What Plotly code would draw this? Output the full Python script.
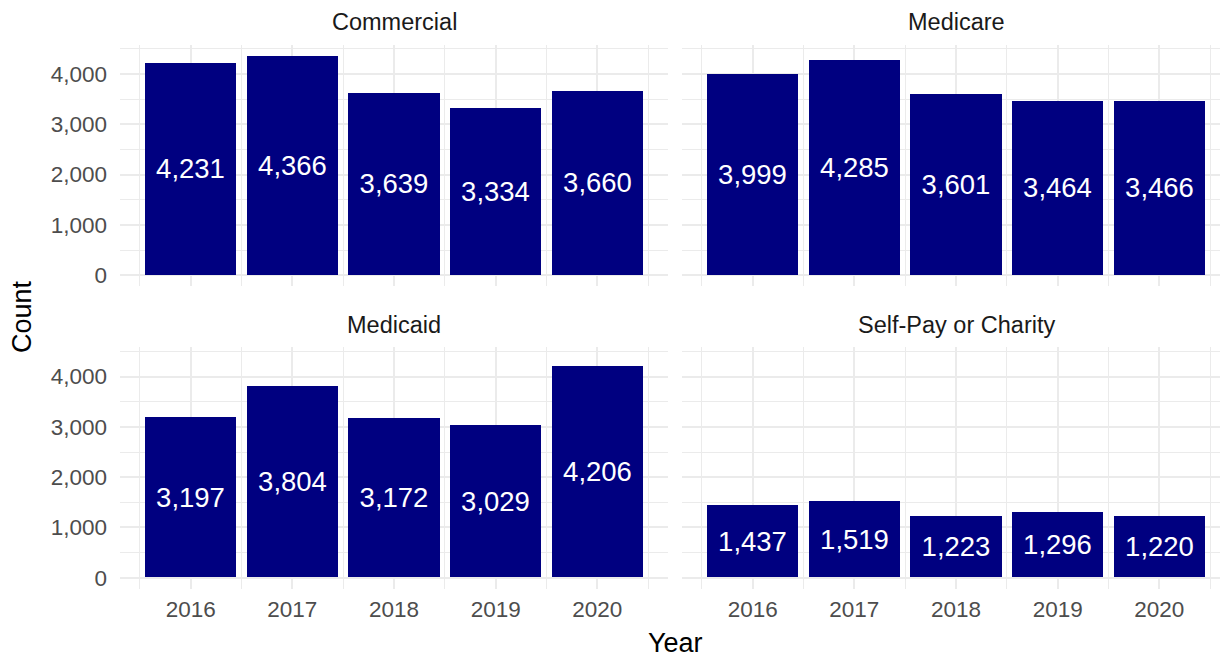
import plotly.graph_objects as go
from plotly.subplots import make_subplots

years = [2016, 2017, 2018, 2019, 2020]
panels = ["Commercial", "Medicare", "Medicaid", "Self-Pay or Charity"]
commercial = [4231, 4366, 3639, 3334, 3660]
medicare = [3999, 4285, 3601, 3464, 3466]
medicaid = [3197, 3804, 3172, 3029, 4206]
selfpay = [1437, 1519, 1223, 1296, 1220]
series = [commercial, medicare, medicaid, selfpay]

W, H = 1220, 660
FONT = "Liberation Sans, Arial, sans-serif"
BAR = "#000080"
GRID = "#ebebeb"

fig = make_subplots(rows=2, cols=2)

pos = [(1, 1), (1, 2), (2, 1), (2, 2)]
for (r, c), vals in zip(pos, series):
    fig.add_trace(go.Bar(
        x=years, y=vals, width=0.9, marker=dict(color=BAR, line=dict(width=0)),
        text=[f"{v:,}" for v in vals], textposition="inside", insidetextanchor="middle",
        textangle=0, textfont=dict(color="white", size=27.5, family=FONT),
        showlegend=False, hoverinfo="skip"), row=r, col=c)

# pixel layout
xl = (120, 668)
xr = (682, 1220)
yt = (44.8, 287.0)
yb = (348.3, 590.5)
unit = (xl[1] - xl[0]) / 5.39
x0 = 2015.305
xrange_l = [x0, x0 + (xl[1] - xl[0]) / unit]
xrange_r = [x0, x0 + (xr[1] - xr[0]) / unit]
yrange = [-218.3, 4584.3]

def fx(p):
    return p / W

def fy(p):
    return 1 - p / H

axis_common = dict(showline=False, zeroline=False, showgrid=True, gridcolor=GRID, gridwidth=1.8,
                   ticks="", tickfont=dict(size=22.5, color="#4d4d4d", family=FONT))

for i, (r, c) in enumerate(pos):
    xd = xl if c == 1 else xr
    yd = yt if r == 1 else yb
    fig.update_xaxes(domain=[fx(xd[0]), fx(xd[1])], range=xrange_l if c == 1 else xrange_r,
                     tickmode="array", tickvals=years, ticktext=[str(y) for y in years],
                     showticklabels=(r == 2),
                     minor=dict(tickmode="array", tickvals=[y - 0.5 for y in years] + [2020.5],
                                showgrid=True, gridcolor=GRID, gridwidth=1.0, ticks=""),
                     ticklabelstandoff=5,
                     row=r, col=c, **axis_common)
    fig.update_yaxes(domain=[fy(yd[1]), fy(yd[0])], range=yrange,
                     tickmode="array", tickvals=[0, 1000, 2000, 3000, 4000],
                     ticktext=["0", "1,000", "2,000", "3,000", "4,000"],
                     showticklabels=(c == 1),
                     minor=dict(tickmode="array", tickvals=[500, 1500, 2500, 3500, 4500],
                                showgrid=True, gridcolor=GRID, gridwidth=1.0, ticks=""),
                     ticklabelstandoff=12,
                     row=r, col=c, **axis_common)

ann = []
strip_y = [22, 22, 326, 326]
for i, (r, c) in enumerate(pos):
    xd = xl if c == 1 else (682, 1231)
    ann.append(dict(text=panels[i], x=fx((xd[0] + xd[1]) / 2), y=fy(strip_y[i]), xref="paper", yref="paper",
                    xanchor="center", yanchor="middle", showarrow=False,
                    font=dict(size=23.5, color="#1a1a1a", family=FONT)))
ann.append(dict(text="Year", x=fx(675.5), y=fy(645), xref="paper", yref="paper", xanchor="center",
                yanchor="middle", showarrow=False, font=dict(size=27, color="black", family=FONT)))
ann.append(dict(text="Count", x=fx(22), y=fy(318), xref="paper", yref="paper", xanchor="center",
                yanchor="middle", showarrow=False, textangle=-90,
                font=dict(size=27, color="black", family=FONT)))

fig.update_layout(width=W, height=H, margin=dict(l=0, r=0, t=0, b=0),
                  paper_bgcolor="white", plot_bgcolor="white", bargap=0,
                  font=dict(family=FONT), annotations=ann)

fig.write_html("out.html", config={"displayModeBar": False},
               post_script="document.body.style.margin='0';document.body.style.overflow='hidden';")
